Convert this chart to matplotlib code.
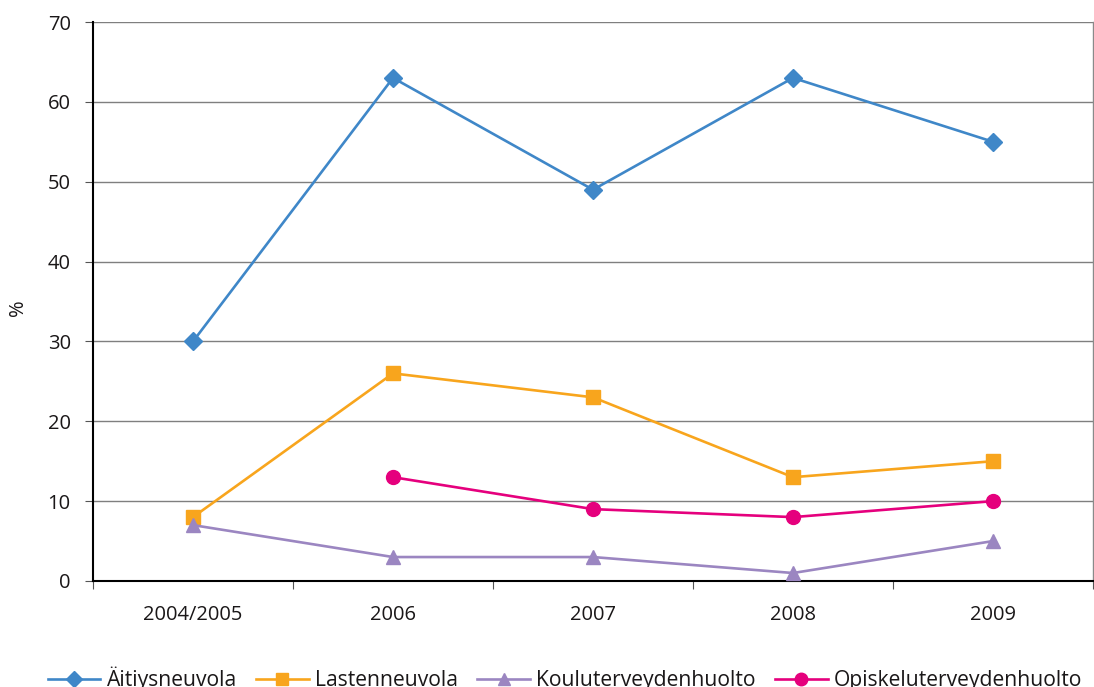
import matplotlib
matplotlib.use("Agg")
import matplotlib.pyplot as plt
import numpy as np

plt.rcParams['font.family'] = ['Open Sans', 'DejaVu Sans']

categories = ["2004/2005", "2006", "2007", "2008", "2009"]
aitiys = [30, 63, 49, 63, 55]
lasten = [8, 26, 23, 13, 15]
koulu = [7, 3, 3, 1, 5]
opiskelu = [np.nan, 13, 9, 8, 10]

series = [
    ("Äitiysneuvola", aitiys, "#3F87C8", "D", 9),
    ("Lastenneuvola", lasten, "#F8A51D", "s", 10),
    ("Kouluterveydenhuolto", koulu, "#9B86C1", "^", 10),
    ("Opiskeluterveydenhuolto", opiskelu, "#E5007D", "o", 10),
]

fig = plt.figure(figsize=(10.94, 6.87), dpi=100)
ax = fig.add_axes([93/1094, 106/687, 1000/1094, 559/687])

x = np.arange(len(categories))
for name, vals, col, mk, ms in series:
    ax.plot(x, vals, color=col, lw=1.9, marker=mk, ms=ms, label=name, zorder=3)

ax.set_xlim(-0.5, len(categories) - 0.5)
ax.set_ylim(0, 70)
ax.set_yticks(range(0, 71, 10))
ax.yaxis.grid(True, color="#7f7f7f", lw=1.0)
ax.set_axisbelow(True)

ax.set_xticks(np.arange(-0.5, len(categories), 1.0))
ax.set_xticklabels([])
ax.set_xticks(x, minor=True)
ax.set_xticklabels(categories, minor=True)
ax.tick_params(axis='x', which='major', length=6, color="#555555", direction='out')
ax.tick_params(axis='x', which='minor', length=0, pad=17, labelsize=14.5, labelcolor="#1a1718")
ax.tick_params(axis='y', length=6, color="#555555", pad=10, labelsize=14.5, labelcolor="#1a1718")

for s in ["left", "bottom"]:
    ax.spines[s].set_color("#000000")
    ax.spines[s].set_linewidth(1.5)
ax.spines["top"].set_visible(False)
ax.spines["right"].set_color("#8a8a8a")
ax.spines["right"].set_linewidth(1.0)

fig.text(18/1094, 1 - 308/687, "%", rotation=90, ha="center", va="center",
         fontsize=14.5, color="#1a1718")

leg = fig.legend(loc="center", bbox_to_anchor=(565/1094, 1 - 679/687), ncol=4,
                 frameon=False, fontsize=15.2, handlelength=2.5, handletextpad=0.3,
                 columnspacing=0.9, borderaxespad=0, borderpad=0, markerscale=0.9)
for t in leg.get_texts():
    t.set_color("#1a1718")

fig.savefig("out.png", dpi=100)
